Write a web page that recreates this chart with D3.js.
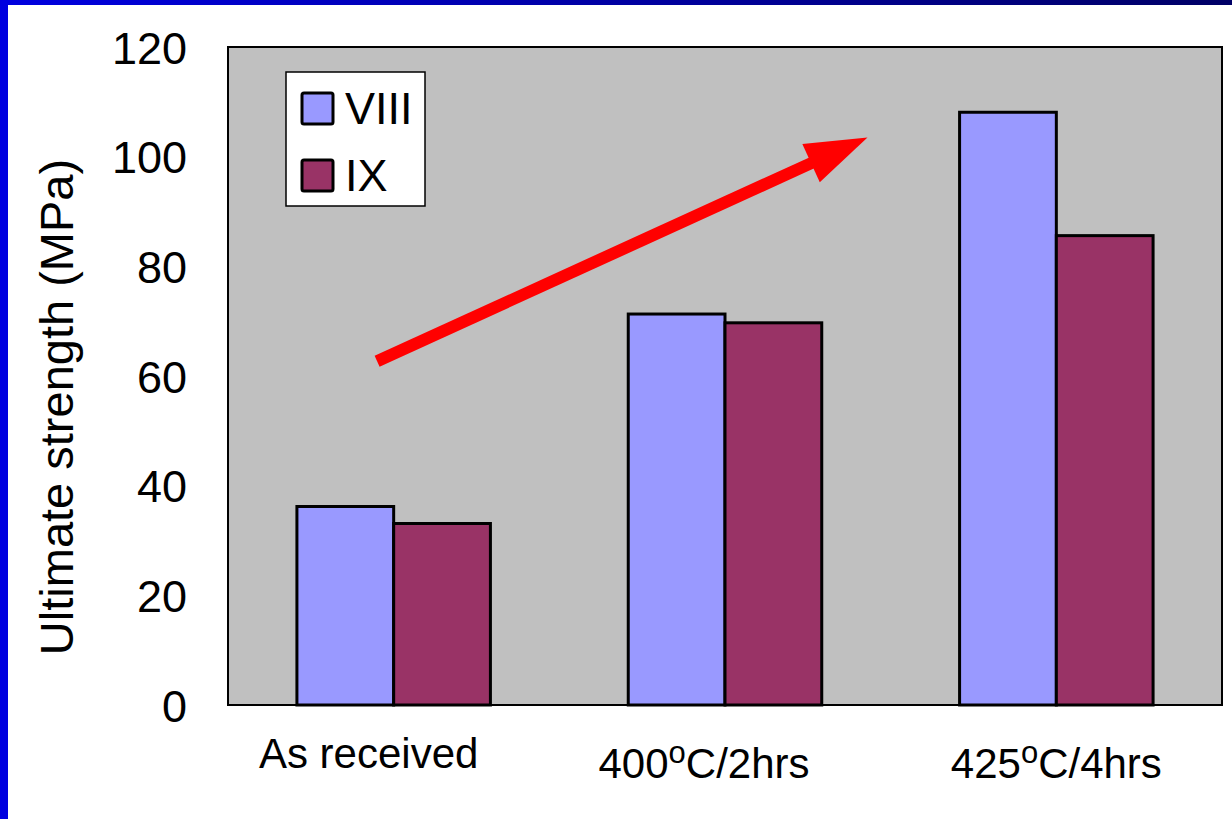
<!DOCTYPE html>
<html>
<head>
<meta charset="utf-8">
<script src="https://cdn.jsdelivr.net/npm/d3@7"></script>
<style>
  body { margin: 0; background: #fff; }
  text { font-family: "Liberation Sans", Arial, sans-serif; fill: #000; }
</style>
</head>
<body>
<svg id="chart" width="1232" height="819"></svg>
<script>
// data
var categories = ["As received", "400|C/2hrs", "425|C/4hrs"];   // "|" marks the superscript o
var seriesNames = ["VIII", "IX"];
var viii = [36.2, 71.3, 108.1];
var ix = [33.1, 69.7, 85.6];
var yTicks = [0, 20, 40, 60, 80, 100, 120];
var trendArrow = [[0.45, 62.7], [1.93, 103.5]];   // [category position, MPa]

var colors = ["#9999ff", "#993366"];

var svg = d3.select("#chart"),
    margin = {top: 47, right: 10, bottom: 114, left: 228},
    width = 1232 - margin.left - margin.right,
    height = 819 - margin.top - margin.bottom;

// slide frame: blue bars on the left and top
var grad = svg.append("defs").append("linearGradient").attr("id", "topbar");
grad.append("stop").attr("offset", "0%").attr("stop-color", "#0000e0");
grad.append("stop").attr("offset", "100%").attr("stop-color", "#000066");
svg.append("rect").attr("x", 0).attr("y", 0).attr("width", 1232).attr("height", 5).attr("fill", "url(#topbar)");
svg.append("rect").attr("x", 0).attr("y", 0).attr("width", 8).attr("height", 819).attr("fill", "#0000e0");

var g = svg.append("g").attr("transform", "translate(" + margin.left + "," + margin.top + ")");

var x0 = d3.scaleBand().domain(categories).range([0, width]).paddingInner(0.416).paddingOuter(0.208),
    x1 = d3.scaleBand().domain(seriesNames).range([0, x0.bandwidth()]),
    xPos = d3.scaleLinear().domain([0, 3]).range([0, width]),
    y = d3.scaleLinear().domain([0, 120]).range([height, 0]);

g.append("rect")
    .attr("width", width)
    .attr("height", height)
    .attr("fill", "#c0c0c0");

// y axis labels
g.append("g")
    .call(d3.axisLeft(y).tickValues(yTicks).tickSize(0).tickPadding(41))
    .call(function(a) { a.select(".domain").remove(); })
    .selectAll("text")
      .style("font-size", "45px")
      .attr("dy", "0.36em");

g.append("text")
    .attr("transform", "rotate(-90)")
    .attr("x", -360)
    .attr("y", -155)
    .attr("text-anchor", "middle")
    .style("font-size", "47px")
    .text("Ultimate strength (MPa)");

// bars
var rows = categories.map(function(c, i) { return {cat: c, values: [viii[i], ix[i]]}; });

var group = g.selectAll(".cat")
  .data(rows)
  .enter().append("g")
    .attr("class", "cat")
    .attr("transform", function(d) { return "translate(" + x0(d.cat) + ",0)"; });

group.selectAll("rect")
  .data(function(d) { return d.values.map(function(v, j) { return {name: seriesNames[j], value: v, j: j}; }); })
  .enter().append("rect")
    .attr("x", function(d) { return x1(d.name); })
    .attr("y", function(d) { return y(d.value); })
    .attr("width", x1.bandwidth())
    .attr("height", function(d) { return height - y(d.value); })
    .attr("fill", function(d) { return colors[d.j]; })
    .attr("stroke", "#000")
    .attr("stroke-width", 3);

// plot frame
g.append("rect")
    .attr("width", width)
    .attr("height", height)
    .attr("fill", "none")
    .attr("stroke", "#000")
    .attr("stroke-width", 2);

// category labels
var labelShift = [-25, -21, 0];
categories.forEach(function(c, i) {
  var parts = c.split("|");
  var t = g.append("text")
      .attr("x", x0(c) + x0.bandwidth() / 2 + labelShift[i])
      .attr("y", height + (parts.length > 1 ? 73 : 63))
      .attr("text-anchor", "middle")
      .style("font-size", "42px");
  t.append("tspan").text(parts[0]);
  if (parts.length > 1) {
    t.append("tspan").attr("dy", -15).style("font-size", "31px").text("o");
    t.append("tspan").attr("dy", 15).text(parts[1]);
  }
});

// red trend arrow
var ax1 = xPos(trendArrow[0][0]), ay1 = y(trendArrow[0][1]),
    ax2 = xPos(trendArrow[1][0]), ay2 = y(trendArrow[1][1]);
var ang = Math.atan2(ay2 - ay1, ax2 - ax1),
    headLen = 62, headHalf = 21;
var bx = ax2 - headLen * Math.cos(ang), by = ay2 - headLen * Math.sin(ang);
g.append("line")
    .attr("x1", ax1).attr("y1", ay1)
    .attr("x2", bx + 5 * Math.cos(ang)).attr("y2", by + 5 * Math.sin(ang))
    .attr("stroke", "#ff0000")
    .attr("stroke-width", 12);
g.append("path")
    .attr("d", d3.line()([
      [ax2, ay2],
      [bx - headHalf * Math.sin(ang), by + headHalf * Math.cos(ang)],
      [bx + headHalf * Math.sin(ang), by - headHalf * Math.cos(ang)]
    ]) + "Z")
    .attr("fill", "#ff0000");

// legend
var legend = g.append("g").attr("transform", "translate(58,25)");
legend.append("rect")
    .attr("width", 139)
    .attr("height", 134)
    .attr("fill", "#fff")
    .attr("stroke", "#000")
    .attr("stroke-width", 1.5);
seriesNames.forEach(function(name, i) {
  legend.append("rect")
      .attr("x", 16)
      .attr("y", 21 + i * 67)
      .attr("width", 31)
      .attr("height", 31)
      .attr("rx", 2)
      .attr("fill", colors[i])
      .attr("stroke", "#000")
      .attr("stroke-width", 3);
  legend.append("text")
      .attr("x", 59)
      .attr("y", 52 + i * 67)
      .style("font-size", "45px")
      .text(name);
});
</script>
</body>
</html>
